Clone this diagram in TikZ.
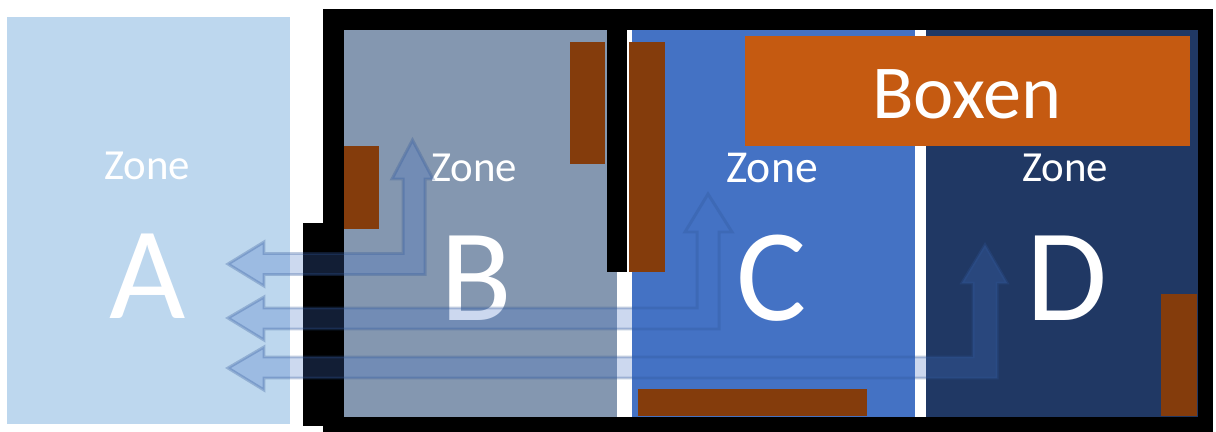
\documentclass[tikz,border=0pt]{standalone}
\usepackage{fontspec}
\setmainfont{Carlito}
\definecolor{zonea}{HTML}{BDD7EE}
\definecolor{zoneb}{HTML}{8497B0}
\definecolor{zonec}{HTML}{4472C4}
\definecolor{zoned}{HTML}{203864}
\definecolor{rack}{HTML}{843C0C}
\definecolor{boxen}{HTML}{C55A11}
\definecolor{flowline}{HTML}{2F5597}
\tikzset{
  zonename/.style={text=white,font=\fontsize{24.4}{25}\selectfont,inner sep=0pt},
  zoneletter/.style={text=white,font=\fontsize{75}{75}\selectfont,inner sep=0pt},
  flow/.style={fill=zonec,fill opacity=0.27,draw=flowline,draw opacity=0.3,line width=1.7pt,line join=miter},
}
\begin{document}
\begin{tikzpicture}[x=0.02cm,y=-0.02cm]
    \useasboundingbox (0,0) rectangle (1216,432);
    % walls
    \fill[black] (323,9) rectangle (1213,432);
    \fill[black] (303,223) rectangle (344,426);
    \fill[white] (344,30) rectangle (1198,417);
    % zones
    \fill[zonea] (7,17) rectangle (290,424);
    \fill[zoneb] (344,30) rectangle (617,417);
    \fill[zonec] (632,30) rectangle (915,417);
    \fill[zoned] (926,30) rectangle (1198,417);
    % inner wall
    \fill[black] (607,30) rectangle (627,272);
    % racks
    \fill[rack] (570,42) rectangle (605,164);
    \fill[rack] (344,146) rectangle (379,229);
    \fill[rack] (629,42) rectangle (665,272);
    \fill[rack] (638,389) rectangle (867,416);
    \fill[rack] (1161,294) rectangle (1197,416);
    % boxen
    \fill[boxen] (745,36) rectangle (1190,146);
    \node[text=white,font=\fontsize{43.4}{44}\selectfont,inner sep=0pt] (boxenlabel) at (967,94) {Boxen};
    % labels
    \node[zonename] (zonenamea) at (147,166) {Zone};
    \node[zonename] (zonenameb) at (474,168) {Zone};
    \node[zonename,font=\fontsize{26}{27}\selectfont] (zonenamec) at (772,168) {Zone};
    \node[zonename] (zonenamed) at (1065,168) {Zone};
    \node[zoneletter] (lettera) at (148,276) {A};
    \node[zoneletter] (letterb) at (476,278) {B};
    \node[zoneletter] (letterc) at (772,278) {C};
    \node[zoneletter] (letterd) at (1067,278) {D};
    % air flows
    \draw[flow] (228,264) -- (264,242) -- (264,253.5) -- (403,253.5) -- (403,179) -- (392,179) -- (412.5,140)
        -- (433,179) -- (425,179) -- (425,274.5) -- (264,274.5) -- (264,286) -- cycle;
    \draw[flow] (228,318) -- (264,297) -- (264,308) -- (697,308) -- (697,232) -- (685,232) -- (708,194)
        -- (732,232) -- (719,232) -- (719,329) -- (264,329) -- (264,340) -- cycle;
    \draw[flow] (228,368) -- (264,347) -- (264,357) -- (973,357) -- (973,283) -- (962,283) -- (985,245)
        -- (1007,283) -- (997,283) -- (997,378) -- (264,378) -- (264,390) -- cycle;
\end{tikzpicture}
\end{document}
